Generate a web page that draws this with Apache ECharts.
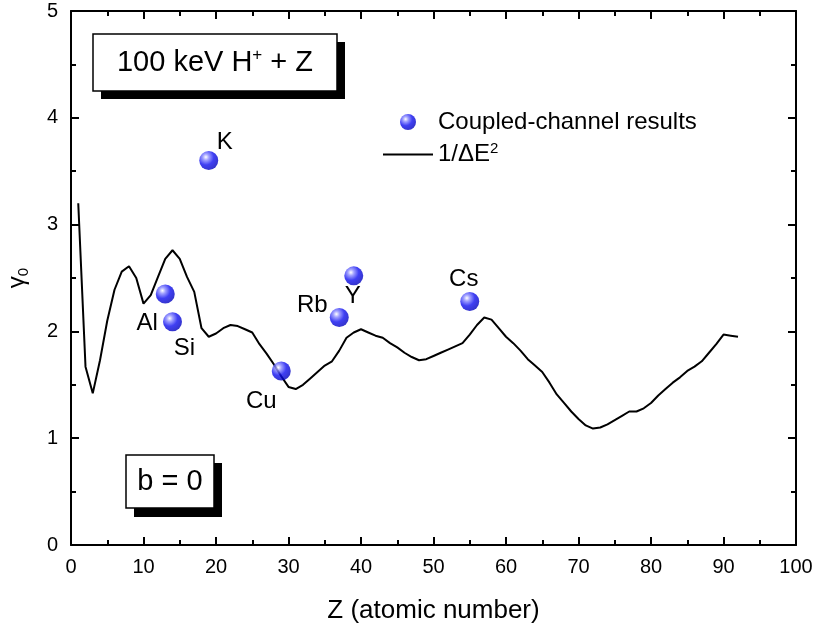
<!DOCTYPE html>
<html>
<head>
<meta charset="utf-8">
<script src="https://cdn.jsdelivr.net/npm/echarts@6/dist/echarts.min.js"></script>
<style>html,body{margin:0;padding:0;background:#fff}#c{width:819px;height:628px}</style>
</head>
<body>
<div id="c"></div>
<script>
// Theory curve 1/ΔE^2 : Z and gamma0
const curveZ = [1,2,3,4,5,6,7,8,9,10,11,12,13,14,15,16,17,18,19,20,21,22,23,24,25,26,27,28,29,30,31,32,33,34,35,36,37,38,39,40,41,42,43,44,45,46,47,48,49,50,51,52,53,54,55,56,57,58,59,60,61,62,63,64,65,66,67,68,69,70,71,72,73,74,75,76,77,78,79,80,81,82,83,84,85,86,87,88,89,90,91,92];
const curveY = [3.20,1.67,1.42,1.73,2.10,2.39,2.56,2.61,2.50,2.26,2.34,2.51,2.68,2.76,2.68,2.51,2.37,2.03,1.95,1.98,2.03,2.06,2.05,2.02,1.99,1.88,1.79,1.69,1.58,1.48,1.46,1.50,1.56,1.62,1.68,1.72,1.82,1.94,1.99,2.02,1.99,1.96,1.94,1.89,1.85,1.80,1.76,1.73,1.74,1.77,1.80,1.83,1.86,1.89,1.97,2.06,2.13,2.11,2.03,1.95,1.89,1.82,1.74,1.68,1.62,1.52,1.41,1.33,1.25,1.18,1.12,1.09,1.10,1.13,1.17,1.21,1.25,1.25,1.28,1.33,1.40,1.46,1.52,1.57,1.63,1.67,1.72,1.80,1.88,1.97,1.96,1.95];
// Coupled-channel results
const elements = ['Al','Si','K','Cu','Rb','Y','Cs'];
const elemZ = [13,14,19,29,37,39,55];
const elemY = [2.35,2.09,3.60,1.63,2.13,2.52,2.28];
const xTicks = [0,10,20,30,40,50,60,70,80,90,100];
const yTicks = [0,1,2,3,4,5];

const labelOffsets = {Al:[-18,29],Si:[12,27],K:[16,-18],Cu:[-20,30],Rb:[-27,-12],Y:[-1,21],Cs:[-6,-22]};

const FONT = 'Liberation Sans, Arial, sans-serif';
const chart = echarts.init(document.getElementById('c'), null, {renderer:'canvas'});

const ballColor = {
  type:'radial', x:0.35, y:0.32, r:0.75,
  colorStops:[{offset:0,color:'#ffffff'},{offset:0.22,color:'#8888ff'},{offset:0.55,color:'#1010f0'},{offset:1,color:'#0000b8'}]
};

const axisCommon = {
  min:0,
  axisLine:{show:true,onZero:false,lineStyle:{color:'#000',width:2}},
  axisTick:{show:true,inside:true,length:8,lineStyle:{color:'#000',width:2}},
  minorTick:{show:true,splitNumber:2,length:5,lineStyle:{color:'#000',width:2}},
  splitLine:{show:false}
};

chart.setOption({
  animation:false,
  backgroundColor:'#fff',
  grid:{left:71,right:23,top:11,bottom:83,containLabel:false,outerBoundsMode:'none'},
  xAxis:[
    Object.assign({}, axisCommon, {type:'value',max:100,interval:10,position:'bottom',
      name:'Z (atomic number)',nameLocation:'middle',nameGap:53,
      nameTextStyle:{fontFamily:FONT,fontSize:26,color:'#000'},
      axisLabel:{fontFamily:FONT,fontSize:20,color:'#000',margin:12,
        formatter:v=>xTicks.includes(v)?String(v):''}}),
    Object.assign({}, axisCommon, {type:'value',max:100,interval:10,position:'top',axisLabel:{show:false}})
  ],
  yAxis:[
    Object.assign({}, axisCommon, {type:'value',max:5,interval:1,position:'left',
      name:'γ{sub|0}',nameLocation:'middle',nameGap:40,
      nameTextStyle:{fontFamily:FONT,fontSize:24,color:'#000',
        rich:{sub:{fontFamily:FONT,fontSize:15,color:'#000',verticalAlign:'bottom',padding:[12,0,0,0]}}},
      axisLabel:{fontFamily:FONT,fontSize:20,color:'#000',margin:13,
        formatter:v=>yTicks.includes(v)?String(v):''}}),
    Object.assign({}, axisCommon, {type:'value',max:5,interval:1,position:'right',axisLabel:{show:false}})
  ],
  legend:{
    orient:'vertical', left:378, top:105, itemWidth:50, itemHeight:16, itemGap:7,
    textStyle:{fontFamily:FONT,fontSize:24,color:'#000',
      rich:{sup:{fontFamily:FONT,fontSize:15,color:'#000',verticalAlign:'top',padding:[0,0,12,0]}}},
    formatter:n=>n==='1/ΔE^2'?'1/ΔE{sup|2}':n,
    data:[
      {name:'Coupled-channel results'},
      {name:'1/ΔE^2', icon:'path://M0,0L50,0L50,2L0,2Z'}
    ]
  },
  series:[
    {
      name:'1/ΔE^2', type:'line', showSymbol:false, symbol:'none',
      lineStyle:{color:'#000',width:2}, itemStyle:{color:'#000'},
      data:curveZ.map((z,i)=>[z,curveY[i]]), z:2
    },
    {
      name:'Coupled-channel results', type:'scatter', symbol:'circle', symbolSize:19,
      itemStyle:{color:ballColor},
      data:elements.map((e,i)=>({name:e,value:[elemZ[i],elemY[i]],
        label:{show:true,position:'inside',offset:labelOffsets[e],formatter:e,
          fontFamily:FONT,fontSize:24,color:'#000',textBorderWidth:0,textBorderColor:'transparent',opacity:1}})),
      z:3
    }
  ],
  graphic:[
    {type:'rect',shape:{x:101,y:42,width:244,height:57},style:{fill:'#000'},z:10},
    {type:'rect',shape:{x:93,y:34,width:244,height:57},style:{fill:'#fff',stroke:'#000',lineWidth:1.5},z:11},
    {type:'text',x:215,y:63,z:12,style:{text:'100 keV H{sup|+} + Z',fontFamily:FONT,fontSize:29,fill:'#000',
      align:'center',verticalAlign:'middle',
      rich:{sup:{fontFamily:FONT,fontSize:17,fill:'#000',verticalAlign:'top',padding:[0,0,16,0]}}}},
    {type:'rect',shape:{x:134,y:463,width:88,height:54},style:{fill:'#000'},z:10},
    {type:'rect',shape:{x:126,y:455,width:88,height:53},style:{fill:'#fff',stroke:'#000',lineWidth:1.5},z:11},
    {type:'text',x:170,y:482,z:12,style:{text:'b = 0',fontFamily:FONT,fontSize:29,fill:'#000',align:'center',verticalAlign:'middle'}}
  ]
});
</script>
</body>
</html>
